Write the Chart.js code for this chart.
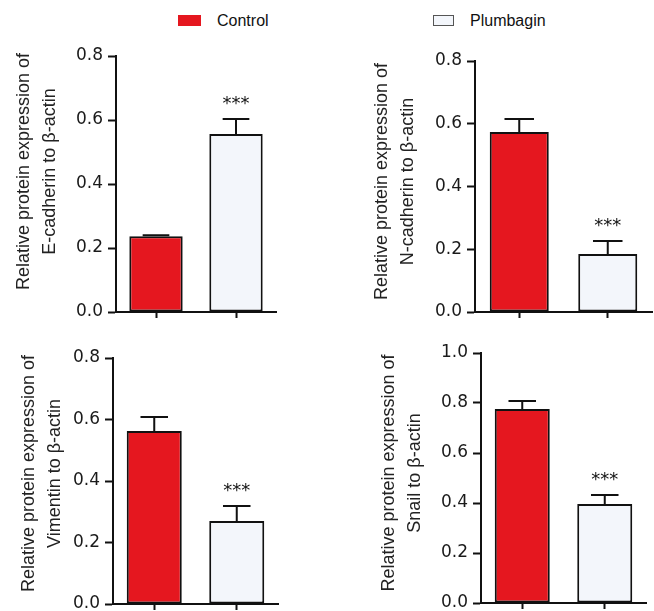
<!DOCTYPE html>
<html>
<head>
<meta charset="utf-8">
<script src="https://cdn.jsdelivr.net/npm/chart.js@4.4.0/dist/chart.umd.min.js"></script>
<style>
  body { margin: 0; background: #fff; width: 654px; height: 611px; position: relative; overflow: hidden;
         font-family: "Liberation Sans", Arial, sans-serif; }
  canvas { position: absolute; }
  .key { position: absolute; font-size: 16px; color: #111; line-height: 20px; }
</style>
</head>
<body>
<div class="key" style="left:178px;top:15px;width:23px;height:11px;background:#e5171f"></div>
<div class="key" style="left:217px;top:11px">Control</div>
<div class="key" style="left:433px;top:15px;width:19px;height:9px;background:#f3f6fb;border:1px solid #555"></div>
<div class="key" style="left:470px;top:11px">Plumbagin</div>

<canvas id="p0"></canvas>
<canvas id="p1"></canvas>
<canvas id="p2"></canvas>
<canvas id="p3"></canvas>

<script>
// values
const groups = ['Control', 'Plumbagin'];
const proteins = ['E-cadherin', 'N-cadherin', 'Vimentin', 'Snail'];
const controlMean = [0.237, 0.574, 0.563, 0.776];
const controlErr = [0.003, 0.041, 0.045, 0.032];
const plumbaginMean = [0.556, 0.185, 0.270, 0.396];
const plumbaginErr = [0.047, 0.041, 0.049, 0.036];
const yMax = [0.8, 0.8, 0.8, 1.0];
const marks = ['***', '***', '***', '***'];

const colors = ['#e5171f', '#f3f6fb'];
const font = '"Liberation Sans", Arial, sans-serif';
const tickFont = '"DejaVu Sans", sans-serif';

// where each panel sits on the page; lift = spaces that nudge the axis title up
const panels = [
  {left: 0,   top: 30,  w: 290, h: 300, axisW: 116, padTop: 26, padRight: 14, titlePad: 11, lift: 5},
  {left: 330, top: 30,  w: 324, h: 300, axisW: 145, padTop: 31, padRight: 2,  titlePad: 39, lift: 2},
  {left: 0,   top: 330, w: 290, h: 292, axisW: 113, padTop: 28, padRight: 12, titlePad: 16, lift: 3},
  {left: 330, top: 330, w: 324, h: 291, axisW: 151, padTop: 23, padRight: 8,  titlePad: 46, lift: 2}
];

// error bars (upward only) and significance stars
const errorBars = {
  id: 'errorBars',
  afterDatasetsDraw(chart, args, opts) {
    const ctx = chart.ctx;
    const y = chart.scales.y;
    const meta = chart.getDatasetMeta(0);
    ctx.save();
    ctx.strokeStyle = '#111';
    ctx.lineWidth = 2;
    meta.data.forEach((bar, j) => {
      const val = chart.data.datasets[0].data[j];
      const top = y.getPixelForValue(val + opts.errs[j]);
      const half = bar.width / 4;
      ctx.beginPath();
      ctx.moveTo(bar.x, bar.y);
      ctx.lineTo(bar.x, top);
      ctx.moveTo(bar.x - half, top);
      ctx.lineTo(bar.x + half, top);
      ctx.stroke();
      if (opts.marks[j]) {
        ctx.fillStyle = '#111';
        ctx.font = '18px ' + tickFont;
        ctx.textAlign = 'center';
        ctx.textBaseline = 'middle';
        ctx.fillText(opts.marks[j], bar.x, top - 15);
      }
    });
    ctx.restore();
  }
};

panels.forEach((p, i) => {
  const cv = document.getElementById('p' + i);
  cv.width = p.w;
  cv.height = p.h;
  cv.style.left = p.left + 'px';
  cv.style.top = p.top + 'px';
  cv.style.width = p.w + 'px';
  cv.style.height = p.h + 'px';

  const pad = ' '.repeat(p.lift);

  new Chart(cv.getContext('2d'), {
    type: 'bar',
    data: {
      labels: groups,
      datasets: [{
        data: [controlMean[i], plumbaginMean[i]],
        backgroundColor: colors,
        borderColor: '#111',
        borderWidth: 2,
        borderSkipped: false,
        barPercentage: 0.667,
        categoryPercentage: 1
      }]
    },
    options: {
      responsive: false,
      animation: false,
      devicePixelRatio: 1,
      layout: { padding: { top: p.padTop, right: p.padRight, left: 0, bottom: 0 } },
      plugins: {
        legend: { display: false },
        tooltip: { enabled: false },
        errorBars: { errs: [controlErr[i], plumbaginErr[i]], marks: ['', marks[i]] }
      },
      scales: {
        x: {
          grid: { offset: false, drawOnChartArea: false, drawTicks: true, tickLength: 6, tickWidth: 2, tickColor: '#111' },
          border: { color: '#111', width: 2 },
          ticks: { display: false },
          afterFit: s => { s.height = 18; }
        },
        y: {
          min: 0,
          max: yMax[i],
          grid: { drawOnChartArea: false, drawTicks: true, tickLength: 8, tickWidth: 2, tickColor: '#111' },
          border: { color: '#111', width: 2 },
          ticks: {
            stepSize: 0.2,
            padding: 5,
            color: '#1a1a1a',
            font: { family: tickFont, size: 17 },
            callback: v => v.toFixed(1)
          },
          title: {
            display: true,
            text: [pad + 'Relative protein expression of', pad + proteins[i] + ' to \u03b2-actin'],
            color: '#222',
            font: { family: font, size: 18, lineHeight: 1.45 },
            padding: { top: p.titlePad, bottom: 0 }
          },
          afterFit: s => { s.width = p.axisW; }
        }
      }
    },
    plugins: [errorBars]
  });
});
</script>
</body>
</html>
